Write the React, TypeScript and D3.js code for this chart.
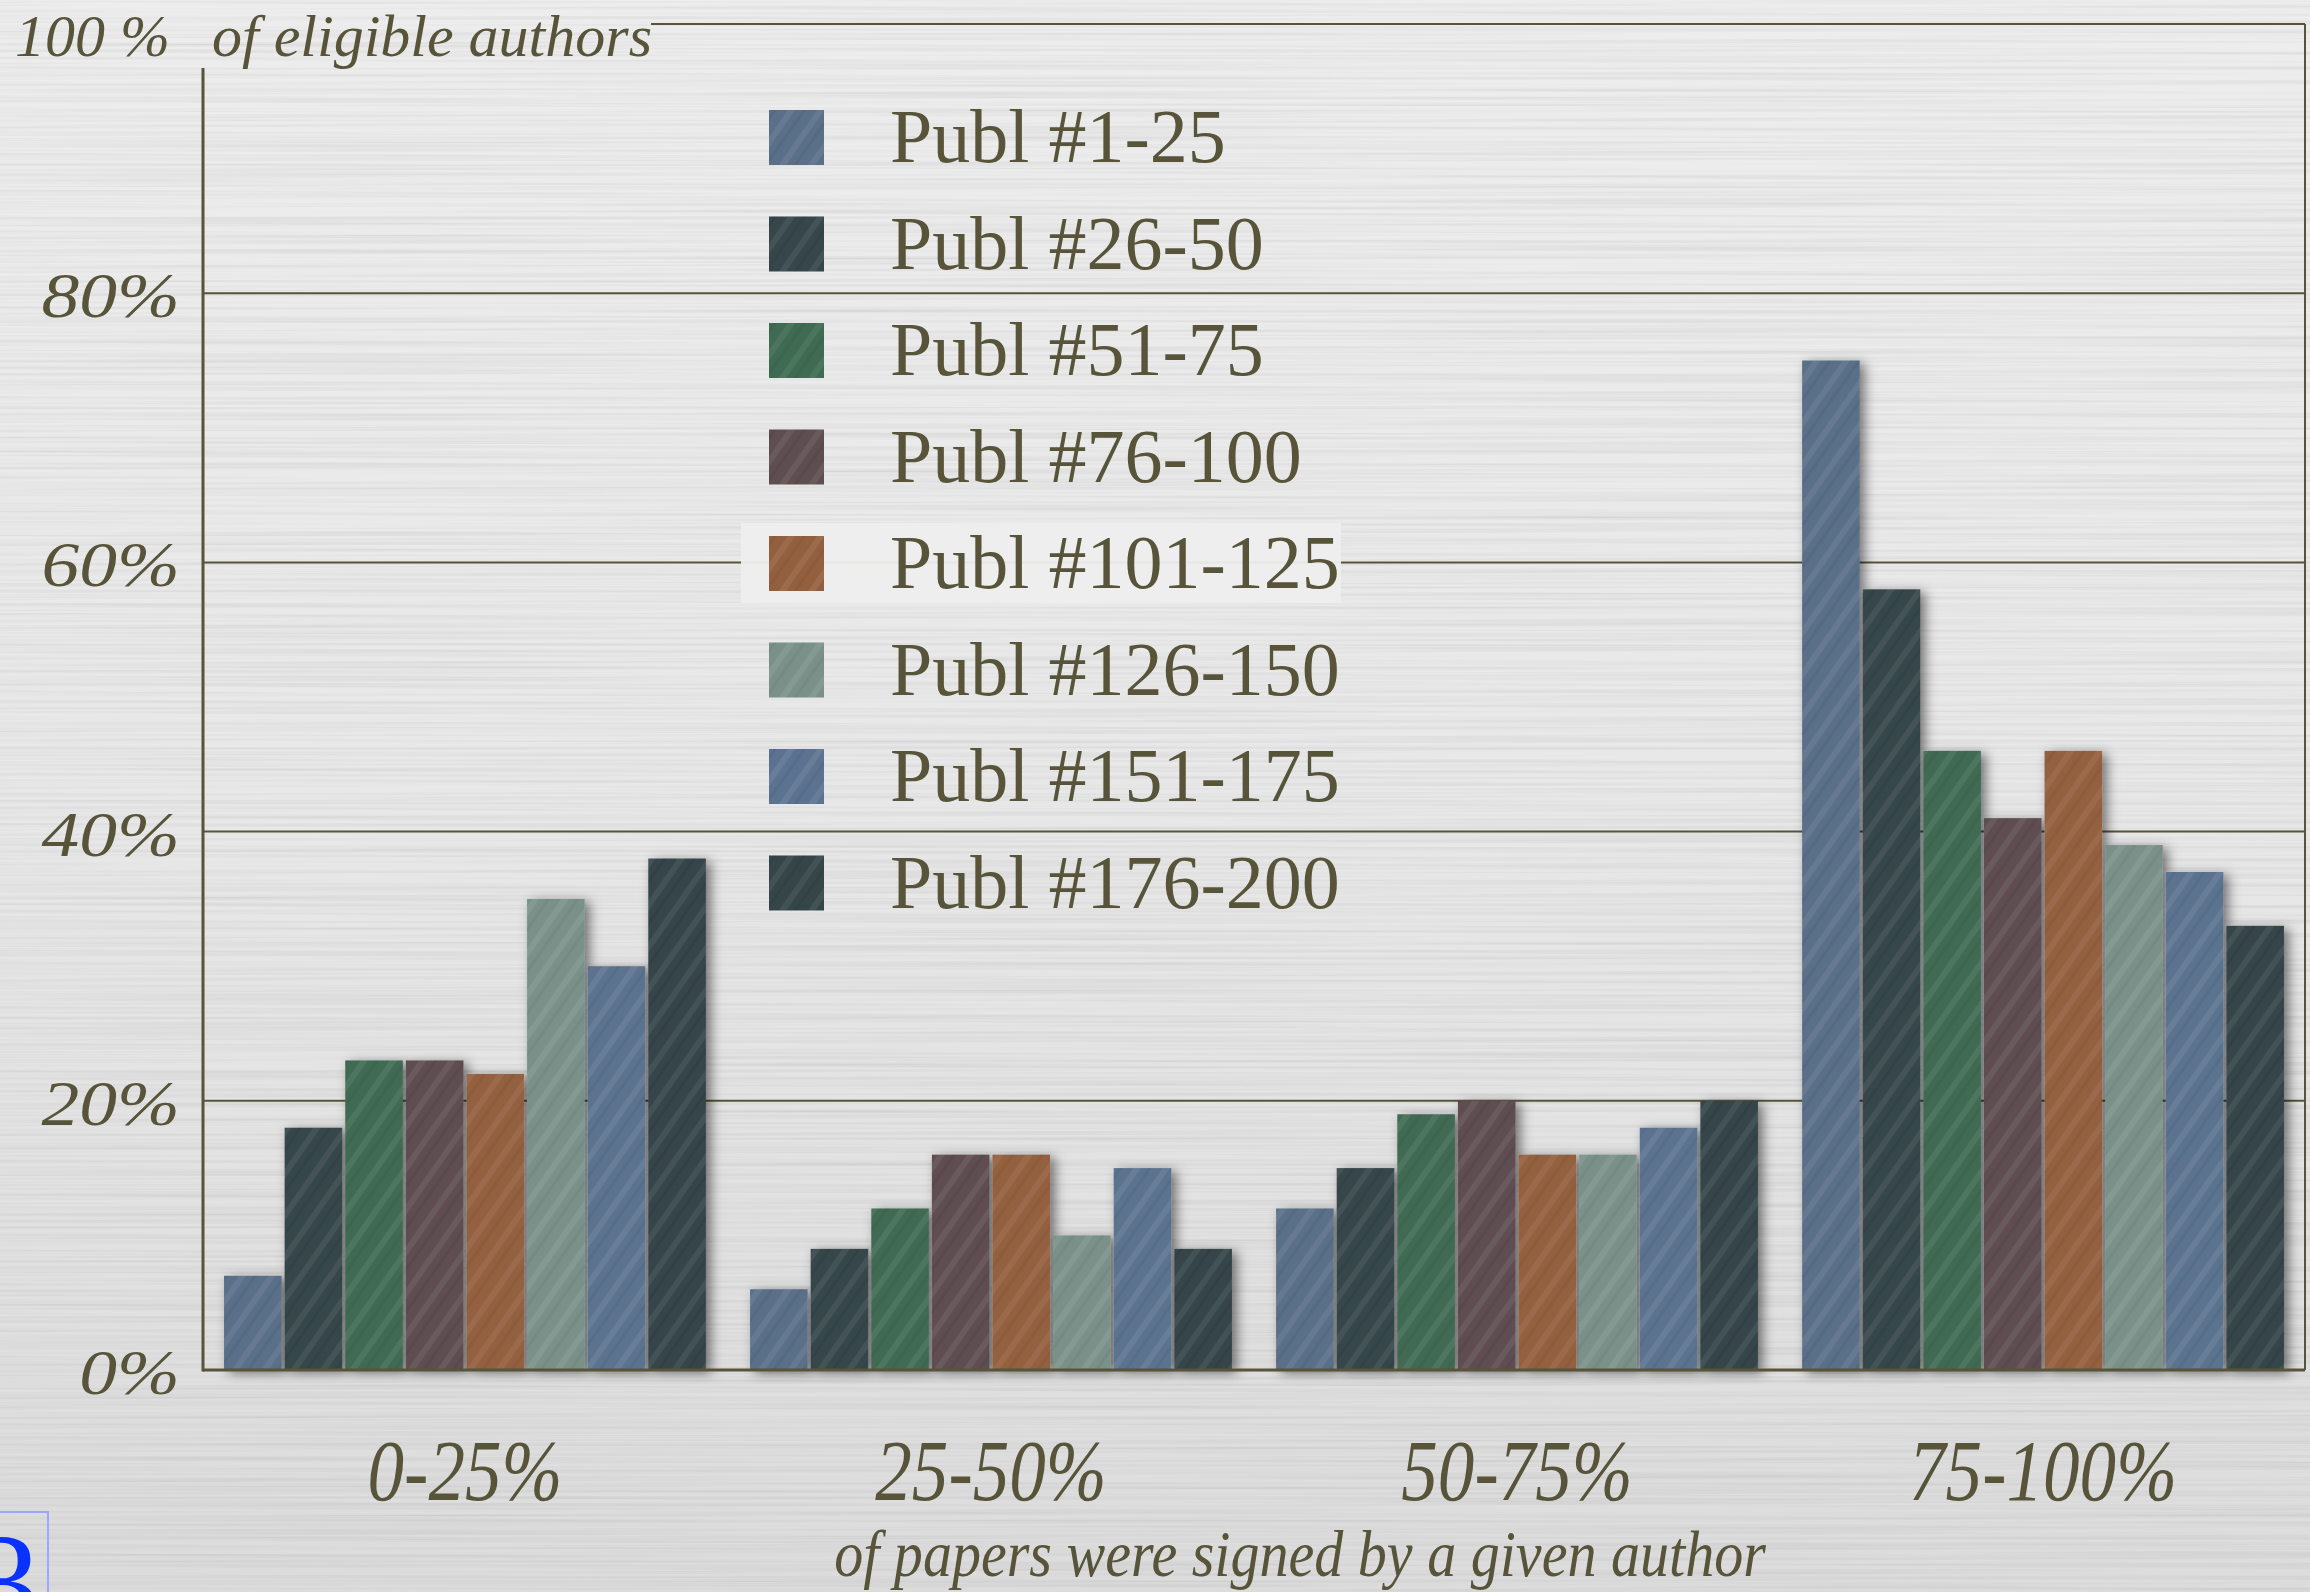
import * as d3 from 'd3';
import { FunctionComponent } from 'react';

const width = 2310;
const height = 1592;

const categories = ['0-25%', '25-50%', '50-75%', '75-100%'];
const seriesNames = [
    'Publ #1-25', 'Publ #26-50', 'Publ #51-75', 'Publ #76-100',
    'Publ #101-125', 'Publ #126-150', 'Publ #151-175', 'Publ #176-200'
];
const seriesColors = ['#5a6f88', '#36464a', '#3f6b52', '#5e4d51', '#93603f', '#7a9189', '#5b7390', '#354548'];

// share of eligible authors, per publication slice, by category
const publ1to25 = [7, 6, 12, 75];
const publ26to50 = [18, 9, 15, 58];
const publ51to75 = [23, 12, 19, 46];
const publ76to100 = [23, 16, 20, 41];
const publ101to125 = [22, 16, 16, 46];
const publ126to150 = [35, 10, 16, 39];
const publ151to175 = [30, 15, 18, 37];
const publ176to200 = [38, 9, 20, 33];
const series = [publ1to25, publ26to50, publ51to75, publ76to100, publ101to125, publ126to150, publ151to175, publ176to200];

const yTicks = [0, 20, 40, 60, 80];

const ink = '#57543a';
const serif = '"Liberation Serif", "DejaVu Serif", serif';

const App: FunctionComponent = () => {
    const left = 203;
    const right = 2305;
    const top = 24;
    const bottom = 1370;

    const x0 = d3.scaleBand<string>().domain(categories).range([left, right]).paddingInner(0.084).paddingOuter(0.04);
    const x1 = d3.scaleBand<number>().domain(d3.range(seriesNames.length)).range([0, x0.bandwidth()]).paddingInner(0.05);
    const y = d3.scaleLinear().domain([0, 100]).range([bottom, top]);

    const legendX = 769;
    const legendY = d3.scaleLinear().domain([0, 1]).range([137, 243.5]);

    return (
        <svg width={width} height={height} style={{ position: 'absolute', left: 0, top: 0 }}>
            <defs>
                <linearGradient id="bg" x1="0" y1="0" x2="0" y2="1">
                    <stop offset="0" stopColor="#ededed" />
                    <stop offset="0.5" stopColor="#e8e8e8" />
                    <stop offset="1" stopColor="#dcdcdc" />
                </linearGradient>
                <filter id="brushed" x="0" y="0" width="100%" height="100%">
                    <feTurbulence type="fractalNoise" baseFrequency="0.0015 0.3" numOctaves="3" seed="7" />
                    <feColorMatrix type="matrix" values="1.2 0 0 0 0.25  1.2 0 0 0 0.25  1.2 0 0 0 0.25  0 0 0 0 1" />
                </filter>
                <filter id="shadow" x="-20%" y="-10%" width="150%" height="130%">
                    <feDropShadow dx="5" dy="3" stdDeviation="6" floodColor="#000" floodOpacity="0.5" />
                </filter>
                <pattern id="streaks" width="24" height="24" patternUnits="userSpaceOnUse" patternTransform="rotate(-55)">
                    <rect width="24" height="6" fill="#ffffff" opacity="0.07" />
                    <rect y="12" width="24" height="3" fill="#000000" opacity="0.05" />
                </pattern>
            </defs>

            <rect width={width} height={height} fill="url(#bg)" />
            <rect width={width} height={height} filter="url(#brushed)" opacity={0.22} style={{ mixBlendMode: 'multiply' }} />

            {/* grid */}
            {yTicks.filter(t => t > 0).map(t => (
                <line key={t} x1={left} x2={right} y1={y(t)} y2={y(t)} stroke={ink} strokeWidth={2} />
            ))}
            <line x1={651} x2={right} y1={y(100)} y2={y(100)} stroke={ink} strokeWidth={2} />
            <line x1={right} x2={right} y1={y(100)} y2={bottom} stroke={ink} strokeWidth={2} />

            {/* legend */}
            {seriesNames.map((name, i) => (
                <g key={name} transform={`translate(${legendX},${legendY(i)})`}>
                    <rect x={-28} y={-40} width={600} height={80} fill="#eeeeee" opacity={i === 4 ? 0.95 : 0} />
                    <rect x={0} y={-27} width={55} height={55} fill={seriesColors[i]} />
                    <rect x={0} y={-27} width={55} height={55} fill="url(#streaks)" />
                    <text x={121} y={25} fontFamily={serif} fontSize={76} fill={ink}>{name}</text>
                </g>
            ))}

            {/* bars */}
            <g filter="url(#shadow)">
                {categories.map((c, ci) => (
                    <g key={c} transform={`translate(${x0(c)},0)`}>
                        {series.map((s, si) => (
                            <g key={si}>
                                <rect x={x1(si)} y={y(s[ci])} width={x1.bandwidth()} height={bottom - y(s[ci])} fill={seriesColors[si]} />
                                <rect x={x1(si)} y={y(s[ci])} width={x1.bandwidth()} height={bottom - y(s[ci])} fill="url(#streaks)" />
                            </g>
                        ))}
                    </g>
                ))}
            </g>

            {/* axes */}
            <line x1={left} x2={left} y1={68} y2={bottom + 1.5} stroke={ink} strokeWidth={3} />
            <line x1={left} x2={right} y1={bottom} y2={bottom} stroke={ink} strokeWidth={3} />

            {/* y labels */}
            {yTicks.map(t => (
                <text key={t} transform={`translate(180,${y(t) + 24}) scale(1.18,1)`} textAnchor="end"
                    fontFamily={serif} fontStyle="italic" fontSize={64} fill={ink}>{`${t}%`}</text>
            ))}
            <text x={15} y={56} fontFamily={serif} fontStyle="italic" fontSize={60} fill={ink}>
                <tspan>100 %</tspan>
                <tspan x={212}>of eligible authors</tspan>
            </text>

            {/* x labels */}
            {categories.map(c => (
                <text key={c} transform={`translate(${(x0(c) ?? 0) + x0.bandwidth() / 2},1500) scale(0.85,1)`} textAnchor="middle"
                    fontFamily={serif} fontStyle="italic" fontSize={86} fill={ink}>{c}</text>
            ))}
            <text transform="translate(1300,1576) scale(0.88,1)" textAnchor="middle"
                fontFamily={serif} fontStyle="italic" fontSize={66} fill={ink}>of papers were signed by a given author</text>

            {/* corner glyph */}
            <rect x={-2} y={1512} width={50} height={100} fill="none" stroke="#9aa6ff" strokeWidth={2} />
            <text x={-30} y={1630} fontFamily={serif} fontSize={140} fill="#0a32ff">3</text>
        </svg>
    );
};

export default App;
